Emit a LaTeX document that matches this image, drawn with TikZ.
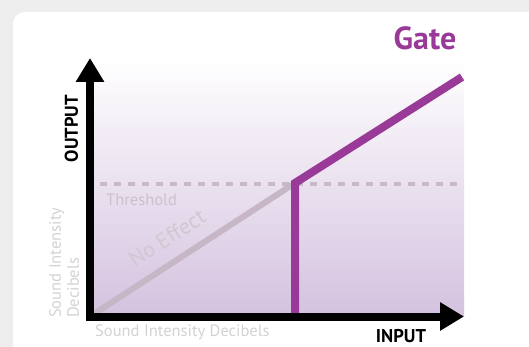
\documentclass[tikz,border=0pt]{standalone}
\usepackage{fontspec}
\setmainfont{PT Sans}
\usetikzlibrary{arrows.meta}
\definecolor{bggray}{HTML}{EEEEEE}
\definecolor{gatepurple}{HTML}{9A3A98}
\definecolor{lavender}{HTML}{D4C2DF}
\definecolor{dashgray}{HTML}{C8B8C8}
\definecolor{diaggray}{HTML}{C6B6C6}
\definecolor{labelgray}{HTML}{D3D3D3}
\definecolor{threshgray}{HTML}{CAC2CA}
\definecolor{effectgray}{HTML}{D0C8D0}
\tikzset{
  axisline/.style={line width=8pt, line join=miter, {Triangle[length=24pt,width=27pt]}-{Triangle[length=24pt,width=27pt]}},
  gateline/.style={line width=8pt, gatepurple, line join=miter},
  threshline/.style={line width=4pt, dashgray, dash pattern=on 7pt off 7pt},
  diagline/.style={line width=6pt, diaggray},
  graylabel/.style={inner sep=0pt, text=labelgray, font=\fontsize{16.5}{18}\selectfont},
  boldlabel/.style={inner sep=0pt, font=\bfseries\fontsize{18.5}{20}\selectfont},
}
\begin{document}
\begin{tikzpicture}[x=1pt,y=-1pt]
\useasboundingbox (0,0) rectangle (529,347);
\fill[bggray] (0,0) rectangle (529,347);
\fill[white, rounded corners=12pt] (13,12) rectangle (560,380);
\shade[top color=white, bottom color=lavender] (90,58) rectangle (464,316.5);
% coordinates
\coordinate (ytip) at (90,58);
\coordinate (origin) at (90,316.5);
\coordinate (xtip) at (464,316.5);
\coordinate (thL) at (100,184);
\coordinate (thR) at (457,184);
\coordinate (gbase) at (295,316.5);
\coordinate (gknee) at (295,183);
\coordinate (gend) at (462,77);
% threshold & diagonal
\draw[threshline] (thL) -- (thR);
\draw[diagline] (origin) -- (gknee);
% gate line
\draw[gateline] (gbase) -- (gknee) -- (gend);
% axes
\draw[axisline] (ytip) -- (origin) -- (xtip);
% texts
\node[inner sep=0pt, text=gatepurple, font=\bfseries\fontsize{32}{34}\selectfont] (gate) at (425,38) {Gate};
\node[boldlabel, rotate=90] (output) at (71.5,128.5) {OUTPUT};
\node[boldlabel] (input) at (401,336.5) {INPUT};
\node[graylabel, anchor=west] (xlabel) at (95,332) {Sound Intensity Decibels};
\node[graylabel, rotate=90, anchor=north west, align=left] (ylabel) at (49,318) {Sound Intensity\\Decibels};
\node[graylabel, anchor=west, text=threshgray] (thresh) at (106,200) {Threshold};
\node[inner sep=0pt, rotate=33, text=effectgray, font=\fontsize{22}{24}\selectfont] (noeffect) at (167,238) {No Effect};
\end{tikzpicture}
\end{document}
